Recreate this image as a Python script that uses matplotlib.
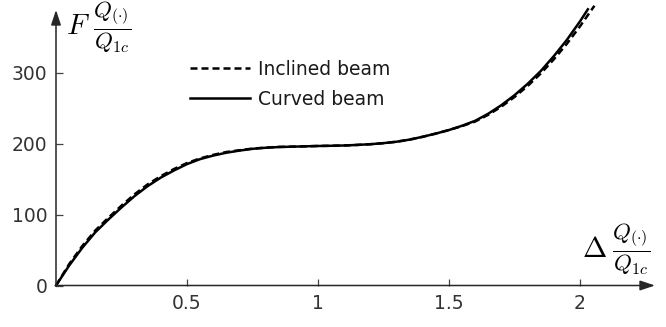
import matplotlib
matplotlib.use("Agg")
import matplotlib.pyplot as plt

plt.rcParams["mathtext.fontset"] = "cm"
plt.rcParams["font.family"] = ["DejaVu Sans"]

# Normalised displacement / force samples
delta_curved = [0.0, 0.05, 0.1, 0.15, 0.2, 0.25, 0.3, 0.35, 0.4, 0.45, 0.5,
                0.55, 0.6, 0.65, 0.7, 0.75, 0.8, 0.85, 0.9, 0.95, 1.0,
                1.05, 1.1, 1.15, 1.2, 1.25, 1.3, 1.35, 1.4, 1.45, 1.5,
                1.55, 1.6, 1.65, 1.7, 1.75, 1.8, 1.85, 1.9, 1.95, 2.0, 2.03]
force_curved = [0.0, 28, 53, 75, 93, 110, 126, 140, 152, 162, 171,
                178, 183, 187, 190, 192.5, 194, 195, 195.5, 196, 196.5,
                196.8, 197.2, 198, 199, 200.5, 202.5, 205.5, 209.5, 214, 219,
                225, 232, 242, 254, 268, 284, 302, 323, 346, 372, 389]

delta_inclined = [0.0, 0.05, 0.1, 0.15, 0.2, 0.25, 0.3, 0.35, 0.4, 0.45, 0.5,
                  0.55, 0.6, 0.65, 0.7, 0.75, 0.8, 0.85, 0.9, 0.95, 1.0,
                  1.05, 1.1, 1.15, 1.2, 1.25, 1.3, 1.35, 1.4, 1.45, 1.5,
                  1.55, 1.6, 1.65, 1.7, 1.75, 1.8, 1.85, 1.9, 1.95, 2.0, 2.055]
force_inclined = [0.0, 30, 55.5, 77.5, 95.5, 112.5, 128.5, 142.5, 154, 164, 172.5,
                  179, 184, 188, 190.5, 192.8, 194.2, 195.2, 195.6, 196, 196.5,
                  196.8, 197.2, 198, 199, 200.5, 202.5, 205.5, 209.5, 214, 219,
                  224.5, 231, 240.5, 252, 265.5, 281, 298.5, 318.5, 340.5, 365, 394]

x_ticks = [0.5, 1, 1.5, 2]
x_tick_labels = ["0.5", "1", "1.5", "2"]
y_ticks = [0, 100, 200, 300]
y_tick_labels = ["0", "100", "200", "300"]

W, H = 666, 327
fig = plt.figure(figsize=(W / 100, H / 100), dpi=100)

x0_px, y0_px = 56, 285.5
px_per_x, px_per_y = 262.0, 0.71
right_px, top_px = 662, 2
ax = fig.add_axes([x0_px / W, (H - y0_px) / H,
                   (right_px - x0_px) / W, (y0_px - top_px) / H])
ax.set_xlim(0, (right_px - x0_px) / px_per_x)
ax.set_ylim(0, (y0_px - top_px) / px_per_y)
for s in ax.spines.values():
    s.set_visible(False)
ax.patch.set_alpha(0)

axis_col = "#444444"
x_end = (655 - x0_px) / px_per_x
y_end = (y0_px - 10) / px_per_y
arrow_kw = dict(arrowstyle="-|>,head_length=0.9,head_width=0.3",
                color="#262626", lw=1.1, shrinkA=0, shrinkB=0)
ax.annotate("", xy=(x_end, 0), xytext=(0, 0), arrowprops=arrow_kw,
            annotation_clip=False)
ax.annotate("", xy=(0, y_end), xytext=(0, 0), arrowprops=arrow_kw,
            annotation_clip=False)

ax.plot(delta_inclined, force_inclined, color="black", lw=1.8,
        dashes=(2.8, 1.6), label="Inclined beam", clip_on=False)
ax.plot(delta_curved, force_curved, color="black", lw=1.8,
        label="Curved beam", clip_on=False)

ax.set_xticks(x_ticks)
ax.set_xticklabels(x_tick_labels)
ax.set_yticks(y_ticks)
ax.set_yticklabels(y_tick_labels)
ax.tick_params(direction="in", length=5, width=0.9, color=axis_col,
               labelcolor="#333333", labelsize=13.5, pad=6)

leg = ax.legend(loc="upper left",
                bbox_to_anchor=(134 / (right_px - x0_px), 1 - 58 / (y0_px - top_px)),
                frameon=False, fontsize=13.5, handlelength=3.2, handletextpad=0.43,
                labelspacing=0.58, borderaxespad=0, borderpad=0)
for t in leg.get_texts():
    t.set_color("#1a1a1a")

# Axis captions: symbol followed by the normalising ratio
ratio = r"$\dfrac{Q_{(\cdot)}}{Q_{1c}}$"
fig.text(66 / W, 1 - 26 / H, r"$F$", fontsize=21,
         ha="left", va="center", color="black")
fig.text(93 / W, 1 - 27 / H, ratio, fontsize=16.5,
         ha="left", va="center", color="black")
fig.text(582 / W, 1 - 249 / H, r"$\Delta$", fontsize=21,
         ha="left", va="center", color="black")
fig.text(612 / W, 1 - 249 / H, ratio, fontsize=16.5,
         ha="left", va="center", color="black")

fig.savefig("out.png", dpi=100)
